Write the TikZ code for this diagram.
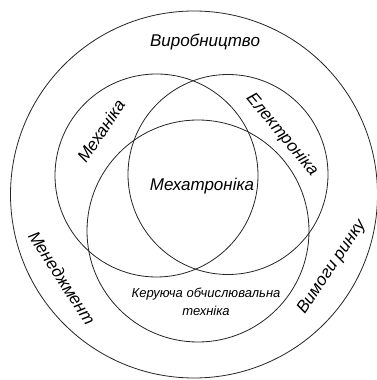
\documentclass[tikz,border=0pt]{standalone}
\usepackage{fontspec}
\setmainfont{Liberation Sans}
\tikzset{
	area/.style = {line width=0.8pt, draw=black!85},
	lbl/.style = {inner sep=0pt, font=\itshape\fontsize{17}{17}\selectfont},
	sublbl/.style = {inner sep=0pt, font=\itshape\fontsize{13}{18}\selectfont, align=center}
}
\begin{document}
\begin{tikzpicture}[x=1pt, y=1pt]
	\useasboundingbox (0,0) rectangle (376,380);
	\fill [white] (0,0) rectangle (376,380);
	\draw [area] (194,185.5) circle (183.5);
	\draw [area] (156.5,204.5) circle (101.5);
	\draw [area] (228,205.5) circle (100);
	\draw [area] (198,149) circle (111);
	%\draw [area] (195,175) circle (20);
	\node [lbl] (vyrob) at (205,338) {Виробництво};
	\node [lbl, rotate=56] (mekh) at (101,249) {Механіка};
	\node [lbl, rotate=-50] (elektr) at (282,245) {Електроніка};
	\node [lbl] (mekhatr) at (202,194) {Мехатроніка};
	\node [sublbl] (keruy) at (206,78) {Керуюча обчислювальна\\техніка};
	\node [lbl, rotate=-57] (menedzh) at (62,102) {Менеджмент};
	\node [lbl, rotate=56] (rynok) at (332,113) {Вимоги ринку};
\end{tikzpicture}
\end{document}
